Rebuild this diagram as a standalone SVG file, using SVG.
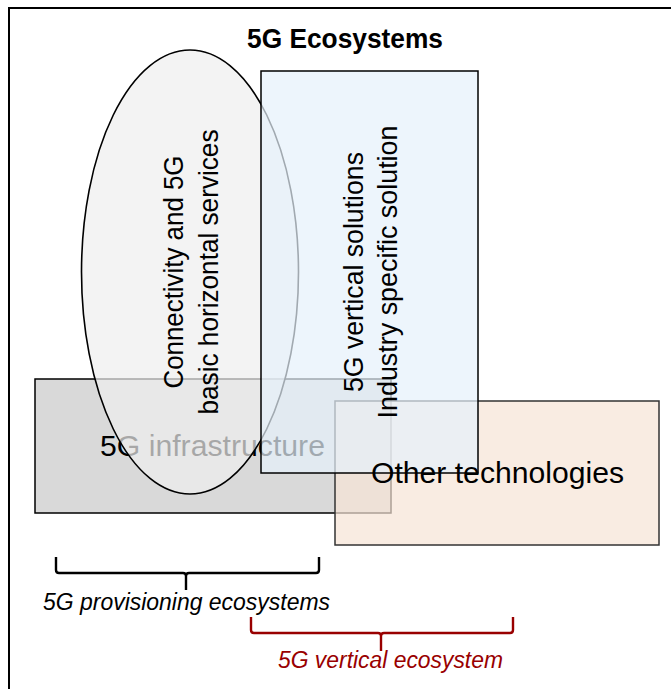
<svg xmlns="http://www.w3.org/2000/svg" width="671" height="689" viewBox="0 0 671 689">
  <style>
    .lbl { font-family: "Liberation Sans", Arial, sans-serif; fill: #000; }
    .title { font-weight: bold; font-size: 27px; }
    .big { font-size: 29px; }
    .vert { font-size: 27px; text-anchor: middle; }
    .cap { font-style: italic; font-size: 23.5px; }
    .brace { fill: none; stroke-width: 2.4; stroke-linejoin: round; }
  </style>

  <!-- page frame -->
  <rect x="0" y="0" width="671" height="689" fill="#ffffff"/>
  <path d="M9 689 V8 H671" fill="none" stroke="#000" stroke-width="2"/>

  <text class="lbl title" x="247" y="48" textLength="196" lengthAdjust="spacingAndGlyphs">5G Ecosystems</text>

  <!-- infrastructure layer -->
  <g id="infrastructure">
    <rect x="35" y="379" width="356" height="134" fill="#d9d9d9" stroke="#000" stroke-width="1.5"/>
    <text class="lbl big" x="100" y="456" textLength="225" lengthAdjust="spacingAndGlyphs">5G infrastructure</text>
  </g>

  <!-- horizontal services -->
  <g id="connectivity">
    <ellipse cx="190" cy="272" rx="108.5" ry="222" fill="#eeeeee" fill-opacity="0.7" stroke="#000" stroke-width="1.6"/>
    <text class="lbl vert" transform="translate(183,272) rotate(-90)" x="0" y="0" textLength="233" lengthAdjust="spacingAndGlyphs">Connectivity and 5G</text>
    <text class="lbl vert" transform="translate(218,272) rotate(-90)" x="0" y="0" textLength="285" lengthAdjust="spacingAndGlyphs">basic horizontal services</text>
  </g>

  <!-- other technologies -->
  <g id="other">
    <rect x="335" y="401" width="324" height="144" fill="#f6e4d5" fill-opacity="0.7" stroke="#333" stroke-width="1.5"/>
  </g>

  <!-- vertical solutions -->
  <g id="vertical">
    <rect x="261" y="71" width="217" height="402" fill="#e6f1fb" fill-opacity="0.7" stroke="#000" stroke-width="1.5"/>
    <text class="lbl vert" transform="translate(363,272) rotate(-90)" x="0" y="0" textLength="240" lengthAdjust="spacingAndGlyphs">5G vertical solutions</text>
    <text class="lbl vert" transform="translate(397,272) rotate(-90)" x="0" y="0" textLength="293" lengthAdjust="spacingAndGlyphs">Industry specific solution</text>
  </g>

  <text class="lbl big" x="371" y="483" textLength="253" lengthAdjust="spacingAndGlyphs">Other technologies</text>

  <!-- braces and captions -->
  <g id="connectors">
    <path class="brace" stroke="#000" d="M56 557 V570 Q56 573 59 573 H183 Q186 573 186 576 V590 M186 576 Q186 573 189 573 H316 Q319 573 319 570 V557"/>
    <path class="brace" stroke="#990000" d="M251 617 V630 Q251 633 254 633 H378 Q381 633 381 636 V651 M381 636 Q381 633 384 633 H510 Q513 633 513 630 V617"/>
  </g>
  <text class="lbl cap" x="43" y="610" textLength="287" lengthAdjust="spacingAndGlyphs">5G provisioning ecosystems</text>
  <text class="lbl cap" x="278" y="668" textLength="225" lengthAdjust="spacingAndGlyphs" style="fill:#990000">5G vertical ecosystem</text>
</svg>
